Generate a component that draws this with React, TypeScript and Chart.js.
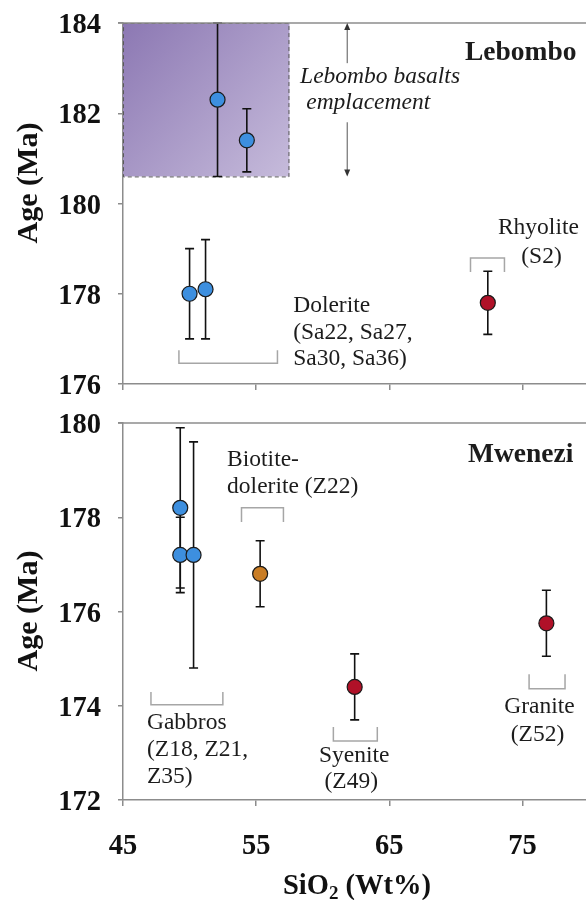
import React, { useEffect, useRef } from 'react';
import { Chart, registerables } from 'chart.js';

Chart.register(...registerables);

const FONT = '"Liberation Serif", "Times New Roman", serif';

// Axis ticks
const xTicks = [45, 55, 65, 75];
const lebYTicks = [176, 178, 180, 182, 184];
const mwYTicks = [172, 174, 176, 178, 180];

// Lebombo panel data
const lebDoleriteSiO2 = [52.1, 54.3, 50.0, 51.2];
const lebDoleriteAge = [182.3, 181.4, 178.0, 178.1];
const lebDoleriteErr = [1.7, 0.7, 1.0, 1.1];
const lebRhyoliteSiO2 = [72.4];
const lebRhyoliteAge = [177.8];
const lebRhyoliteErr = [0.7];
const basaltSiO2Range = [45, 57.5];
const basaltAgeRange = [180.6, 184];

// Mwenezi panel data
const gabbroSiO2 = [49.3, 49.3, 50.3];
const gabbroAge = [178.2, 177.2, 177.2];
const gabbroErr = [1.7, 0.8, 2.4];
const biotiteSiO2 = [55.3];
const biotiteAge = [176.8];
const biotiteErr = [0.7];
const syeniteSiO2 = [62.4];
const syeniteAge = [174.4];
const syeniteErr = [0.7];
const graniteSiO2 = [76.8];
const graniteAge = [175.75];
const graniteErr = [0.7];

const BLUE = '#3d8fdf';
const RED = '#b01128';
const ORANGE = '#c97d25';
const AXIS = '#8c8c8c';
const TEXT = '#1c1c1c';

type Group = { xs: number[]; ys: number[]; err: number[]; color: string };
type Label = { lines: string[]; x: number; y: number; dy: number; align: CanvasTextAlign; font: string };
type Bracket = { x1: number; x2: number; yLine: number; yTip: number };

const lebGroups: Group[] = [
  { xs: lebDoleriteSiO2, ys: lebDoleriteAge, err: lebDoleriteErr, color: BLUE },
  { xs: lebRhyoliteSiO2, ys: lebRhyoliteAge, err: lebRhyoliteErr, color: RED },
];
const mwGroups: Group[] = [
  { xs: gabbroSiO2, ys: gabbroAge, err: gabbroErr, color: BLUE },
  { xs: biotiteSiO2, ys: biotiteAge, err: biotiteErr, color: ORANGE },
  { xs: syeniteSiO2, ys: syeniteAge, err: syeniteErr, color: RED },
  { xs: graniteSiO2, ys: graniteAge, err: graniteErr, color: RED },
];

const REG = `23.5px ${FONT}`;
const BOLD = `bold 27.5px ${FONT}`;
const ITAL = `italic 23.5px ${FONT}`;
const TICKFONT = `bold 28.5px ${FONT}`;

const lebLabels: Label[] = [
  { lines: ['Lebombo'], x: 79.06, y: 183.33, dy: 0, align: 'right', font: BOLD },
  { lines: ['Lebombo basalts'], x: 58.3, y: 182.8, dy: 0, align: 'left', font: ITAL },
  { lines: ['emplacement'], x: 58.76, y: 182.23, dy: 0, align: 'left', font: ITAL },
  { lines: ['Dolerite', '(Sa22, Sa27,', 'Sa30, Sa36)'], x: 57.78, y: 177.73, dy: 26.5, align: 'left', font: REG },
  { lines: ['Rhyolite'], x: 76.2, y: 179.45, dy: 0, align: 'center', font: REG },
  { lines: ['(S2)'], x: 76.43, y: 178.81, dy: 0, align: 'center', font: REG },
];
const mwLabels: Label[] = [
  { lines: ['Mwenezi'], x: 78.83, y: 179.32, dy: 0, align: 'right', font: BOLD },
  { lines: ['Biotite-', 'dolerite (Z22)'], x: 52.82, y: 179.21, dy: 27, align: 'left', font: REG },
  { lines: ['Gabbros', '(Z18, Z21,', 'Z35)'], x: 46.8, y: 173.63, dy: 27, align: 'left', font: REG },
  { lines: ['Syenite'], x: 62.37, y: 172.93, dy: 0, align: 'center', font: REG },
  { lines: ['(Z49)'], x: 62.14, y: 172.38, dy: 0, align: 'center', font: REG },
  { lines: ['Granite'], x: 76.28, y: 173.97, dy: 0, align: 'center', font: REG },
  { lines: ['(Z52)'], x: 76.13, y: 173.38, dy: 0, align: 'center', font: REG },
];
const lebBrackets: Bracket[] = [
  { x1: 49.2, x2: 56.6, yLine: 176.46, yTip: 176.75 },
  { x1: 71.1, x2: 73.65, yLine: 178.79, yTip: 178.48 },
];
const mwBrackets: Bracket[] = [
  { x1: 53.9, x2: 57.05, yLine: 178.2, yTip: 177.9 },
  { x1: 47.1, x2: 52.5, yLine: 174.02, yTip: 174.29 },
  { x1: 60.8, x2: 64.1, yLine: 173.25, yTip: 173.55 },
  { x1: 75.5, x2: 78.2, yLine: 174.36, yTip: 174.67 },
];
const lebArrow = { x: 61.84, topFrom: 183.11, bottomFrom: 181.8 };

type PanelCfg = {
  groups: Group[];
  labels: Label[];
  brackets: Bracket[];
  box?: boolean;
  arrow?: boolean;
  titleY: number;
  xTitle?: boolean;
};

function drawArrowHead(ctx: CanvasRenderingContext2D, x: number, y: number, dir: number) {
  ctx.beginPath();
  ctx.moveTo(x, y);
  ctx.lineTo(x - 3, y - dir * 7);
  ctx.lineTo(x + 3, y - dir * 7);
  ctx.closePath();
  ctx.fill();
}

function makePlugin(cfg: PanelCfg) {
  return {
    id: 'panelAnnotations',
    beforeDatasetsDraw(chart: any) {
      const { ctx } = chart;
      const xs = chart.scales.x;
      const ys = chart.scales.y;
      ctx.save();
      if (cfg.box) {
        const x0 = xs.getPixelForValue(basaltSiO2Range[0]);
        const x1 = xs.getPixelForValue(basaltSiO2Range[1]);
        const y0 = ys.getPixelForValue(basaltAgeRange[1]);
        const y1 = ys.getPixelForValue(basaltAgeRange[0]);
        const g = ctx.createLinearGradient(x0, y0, x1, y1);
        g.addColorStop(0, '#8c78b3');
        g.addColorStop(1, '#c6bbdb');
        ctx.fillStyle = g;
        ctx.fillRect(x0, y0, x1 - x0, y1 - y0);
        ctx.setLineDash([4, 3]);
        ctx.strokeStyle = '#5a5a5a';
        ctx.lineWidth = 1;
        ctx.strokeRect(x0 + 0.5, y0 + 0.5, x1 - x0 - 1, y1 - y0);
        ctx.setLineDash([]);
      }
      // error bars
      ctx.strokeStyle = '#111';
      ctx.lineWidth = 1.6;
      cfg.groups.forEach((g) => {
        g.xs.forEach((xv, i) => {
          const px = xs.getPixelForValue(xv);
          const pt = ys.getPixelForValue(g.ys[i] + g.err[i]);
          const pb = ys.getPixelForValue(g.ys[i] - g.err[i]);
          ctx.beginPath();
          ctx.moveTo(px, pt);
          ctx.lineTo(px, pb);
          ctx.moveTo(px - 4.5, pt);
          ctx.lineTo(px + 4.5, pt);
          ctx.moveTo(px - 4.5, pb);
          ctx.lineTo(px + 4.5, pb);
          ctx.stroke();
        });
      });
      ctx.restore();
    },
    afterDraw(chart: any) {
      const { ctx, chartArea } = chart;
      const xs = chart.scales.x;
      const ys = chart.scales.y;
      ctx.save();
      // top frame line
      ctx.strokeStyle = AXIS;
      ctx.lineWidth = 1.5;
      ctx.beginPath();
      ctx.moveTo(chartArea.left - 5, chartArea.top);
      ctx.lineTo(chartArea.right, chartArea.top);
      ctx.stroke();
      // y tick labels (from the scale's ticks)
      ctx.fillStyle = '#111';
      ctx.font = TICKFONT;
      ctx.textAlign = 'right';
      ctx.textBaseline = 'alphabetic';
      ys.ticks.forEach((t: any) => {
        const py = ys.getPixelForValue(t.value);
        ctx.fillText(String(t.value), chartArea.left - 22, py + 10);
      });
      // brackets
      ctx.strokeStyle = '#a6a6a6';
      ctx.lineWidth = 1.5;
      cfg.brackets.forEach((b) => {
        const a = xs.getPixelForValue(b.x1);
        const c = xs.getPixelForValue(b.x2);
        const yl = ys.getPixelForValue(b.yLine);
        const yt = ys.getPixelForValue(b.yTip);
        ctx.beginPath();
        ctx.moveTo(a, yt);
        ctx.lineTo(a, yl);
        ctx.lineTo(c, yl);
        ctx.lineTo(c, yt);
        ctx.stroke();
      });
      // arrow
      if (cfg.arrow) {
        const px = xs.getPixelForValue(lebArrow.x);
        const top = ys.getPixelForValue(basaltAgeRange[1]);
        const bot = ys.getPixelForValue(basaltAgeRange[0]);
        ctx.strokeStyle = '#555';
        ctx.fillStyle = '#333';
        ctx.lineWidth = 1;
        ctx.beginPath();
        ctx.moveTo(px, ys.getPixelForValue(lebArrow.topFrom));
        ctx.lineTo(px, top + 4);
        ctx.moveTo(px, ys.getPixelForValue(lebArrow.bottomFrom));
        ctx.lineTo(px, bot - 4);
        ctx.stroke();
        drawArrowHead(ctx, px, top, -1);
        drawArrowHead(ctx, px, bot, 1);
      }
      // text labels
      ctx.fillStyle = TEXT;
      ctx.textBaseline = 'middle';
      cfg.labels.forEach((l) => {
        ctx.font = l.font;
        ctx.textAlign = l.align;
        const px = xs.getPixelForValue(l.x);
        const py = ys.getPixelForValue(l.y);
        l.lines.forEach((t, i) => ctx.fillText(t, px, py + i * l.dy));
      });
      // y title
      ctx.font = `bold 30px ${FONT}`;
      ctx.fillStyle = '#111';
      ctx.textAlign = 'center';
      ctx.translate(29, cfg.titleY);
      ctx.rotate(-Math.PI / 2);
      ctx.fillText('Age (Ma)', 0, 0);
      ctx.setTransform(1, 0, 0, 1, 0, 0);
      // x title with subscript
      if (cfg.xTitle) {
        const big = `bold 28.5px ${FONT}`;
        const small = `bold 19px ${FONT}`;
        const cy = chart.height - 15;
        ctx.textAlign = 'left';
        ctx.textBaseline = 'alphabetic';
        ctx.font = big;
        const w1 = ctx.measureText('SiO').width;
        const w3 = ctx.measureText(' (Wt%)').width;
        ctx.font = small;
        const w2 = ctx.measureText('2').width;
        const cx = 357;
        let x0 = cx - (w1 + w2 + w3) / 2;
        const base = cy + 9;
        ctx.font = big;
        ctx.fillText('SiO', x0, base);
        x0 += w1;
        ctx.font = small;
        ctx.fillText('2', x0, base + 5);
        x0 += w2;
        ctx.font = big;
        ctx.fillText(' (Wt%)', x0, base);
      }
      ctx.restore();
    },
  };
}

function scatterDatasets(groups: Group[]) {
  return groups.map((g) => ({
    type: 'scatter' as const,
    data: g.xs.map((x, i) => ({ x, y: g.ys[i] })),
    pointRadius: 7.5,
    pointHoverRadius: 7.5,
    pointBackgroundColor: g.color,
    pointBorderColor: '#1a1a1a',
    pointBorderWidth: 1.2,
    showLine: false,
  }));
}

function makeOptions(yTicks: number[], showXLabels: boolean, xHeight: number) {
  return {
    animation: false,
    responsive: false,
    events: [],
    layout: { autoPadding: false, padding: { top: 23, left: 0, right: 0, bottom: 0 } },
    plugins: { legend: { display: false }, tooltip: { enabled: false }, title: { display: false } },
    scales: {
      x: {
        type: 'linear',
        min: 45,
        max: 80,
        afterBuildTicks: (s: any) => {
          s.ticks = xTicks.map((v) => ({ value: v }));
        },
        afterFit: (s: any) => {
          s.height = xHeight;
          s.paddingLeft = 0;
          s.paddingRight = 0;
        },
        grid: { display: true, drawOnChartArea: false, drawTicks: true, tickLength: 6, color: AXIS, lineWidth: 1.5 },
        border: { display: true, color: AXIS, width: 1.5 },
        ticks: {
          color: showXLabels ? '#111' : 'rgba(0,0,0,0)',
          font: { family: FONT, size: 28.5, weight: 'bold' },
          padding: 24,
          maxRotation: 0,
          autoSkip: false,
        },
      },
      y: {
        type: 'linear',
        min: yTicks[0],
        max: yTicks[yTicks.length - 1],
        afterBuildTicks: (s: any) => {
          s.ticks = yTicks.map((v) => ({ value: v }));
        },
        afterFit: (s: any) => {
          s.width = 123;
          s.paddingTop = 0;
          s.paddingBottom = 0;
        },
        grid: { display: true, drawOnChartArea: false, drawTicks: true, tickLength: 5, color: AXIS, lineWidth: 1.5 },
        border: { display: true, color: AXIS, width: 1.5 },
        ticks: {
          color: 'rgba(0,0,0,0)',
          font: { family: FONT, size: 28, weight: 'bold' },
          padding: 18,
          autoSkip: false,
        },
      },
    },
  } as any;
}

function Panel(props: { cfg: PanelCfg; yTicks: number[]; showX: boolean; xHeight: number; width: number; height: number; top: number }) {
  const ref = useRef<HTMLCanvasElement | null>(null);
  useEffect(() => {
    if (!ref.current) return;
    const chart = new Chart(ref.current, {
      type: 'scatter',
      data: { datasets: scatterDatasets(props.cfg.groups) as any },
      options: makeOptions(props.yTicks, props.showX, props.xHeight),
      plugins: [makePlugin(props.cfg) as any],
    });
    return () => chart.destroy();
  }, []);
  return (
    <canvas
      ref={ref}
      width={props.width}
      height={props.height}
      style={{ position: 'absolute', left: 0, top: props.top, width: props.width, height: props.height }}
    />
  );
}

export default function App() {
  const lebCfg: PanelCfg = { groups: lebGroups, labels: lebLabels, brackets: lebBrackets, box: true, arrow: true, titleY: 183 };
  const mwCfg: PanelCfg = { groups: mwGroups, labels: mwLabels, brackets: mwBrackets, titleY: 211, xTitle: true };
  return (
    <div style={{ position: 'absolute', left: 0, top: 0, width: 586, height: 900, overflow: 'hidden', background: '#fff' }}>
      <Panel cfg={lebCfg} yTicks={lebYTicks} showX={false} xHeight={16} width={589} height={400} top={0} />
      <Panel cfg={mwCfg} yTicks={mwYTicks} showX={true} xHeight={100} width={589} height={500} top={400} />
    </div>
  );
}
